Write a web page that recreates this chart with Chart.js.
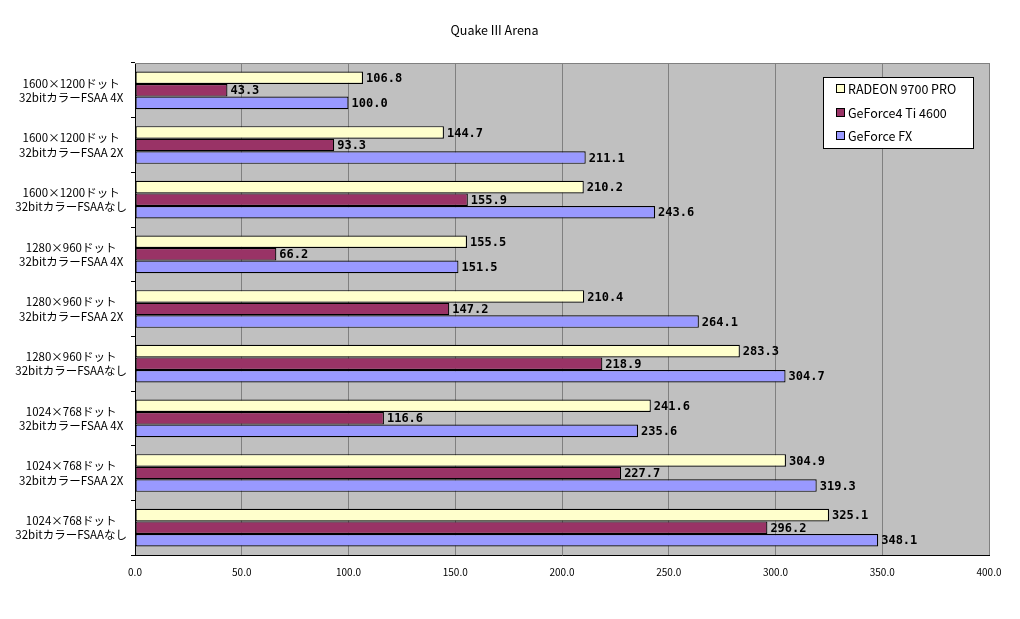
<!DOCTYPE html>
<html>
<head>
<meta charset="utf-8">
<script src="https://cdn.jsdelivr.net/npm/chart.js@4/dist/chart.umd.min.js"></script>
<style>
html,body{margin:0;padding:0;background:#fff;}
#wrap{width:1020px;height:619px;position:relative;}
</style>
</head>
<body>
<div id="wrap"><canvas id="c" width="1020" height="619"></canvas></div>
<script>
const chartTitle = 'Quake III Arena';
const categories = [
  ['1600×1200ドット', '32bitカラーFSAA 4X'],
  ['1600×1200ドット', '32bitカラーFSAA 2X'],
  ['1600×1200ドット', '32bitカラーFSAAなし'],
  ['1280×960ドット', '32bitカラーFSAA 4X'],
  ['1280×960ドット', '32bitカラーFSAA 2X'],
  ['1280×960ドット', '32bitカラーFSAAなし'],
  ['1024×768ドット', '32bitカラーFSAA 4X'],
  ['1024×768ドット', '32bitカラーFSAA 2X'],
  ['1024×768ドット', '32bitカラーFSAAなし']
];
const seriesNames = ['RADEON 9700 PRO', 'GeForce4 Ti 4600', 'GeForce FX'];
const radeon9700 = [106.8, 144.7, 210.2, 155.5, 210.4, 283.3, 241.6, 304.9, 325.1];
const geforce4ti = [43.3, 93.3, 155.9, 66.2, 147.2, 218.9, 116.6, 227.7, 296.2];
const geforceFX  = [100.0, 211.1, 243.6, 151.5, 264.1, 304.7, 235.6, 319.3, 348.1];
const xTicks = [0, 50, 100, 150, 200, 250, 300, 350, 400];
const seriesColors = ['#FFFFCC', '#993366', '#9999FF'];

const JP = '"Noto Sans CJK JP", "DejaVu Sans", sans-serif';

const plotBg = {
  id: 'plotBg',
  beforeDraw(chart) {
    const {ctx, chartArea: a} = chart;
    ctx.save();
    ctx.fillStyle = '#C0C0C0';
    ctx.fillRect(a.left, a.top, a.right - a.left, a.bottom - a.top);
    ctx.restore();
  },
  afterDatasetsDraw(chart) {
    const {ctx, chartArea: a} = chart;
    ctx.save();
    ctx.strokeStyle = '#808080';
    ctx.lineWidth = 1;
    ctx.beginPath();
    ctx.moveTo(a.left, a.top + 0.5);
    ctx.lineTo(a.right + 0.5, a.top + 0.5);
    ctx.lineTo(a.right + 0.5, a.bottom);
    ctx.stroke();
    // data labels
    ctx.fillStyle = '#000';
    ctx.font = 'bold 12px "DejaVu Sans Mono", monospace';
    ctx.textAlign = 'left';
    ctx.textBaseline = 'middle';
    chart.data.datasets.forEach((ds, i) => {
      const meta = chart.getDatasetMeta(i);
      meta.data.forEach((bar, j) => {
        ctx.fillText(ds.data[j].toFixed(1), bar.x + 3, bar.y + 1);
      });
    });
    ctx.restore();
  },
  afterDraw(chart) {
    const {ctx} = chart;
    const bx = 823.5, by = 77.5, bw = 150, bh = 71;
    ctx.save();
    ctx.fillStyle = '#fff';
    ctx.fillRect(bx, by, bw, bh);
    ctx.strokeStyle = '#000';
    ctx.lineWidth = 1;
    ctx.strokeRect(bx, by, bw, bh);
    ctx.font = '12.5px ' + JP;
    ctx.textBaseline = 'middle';
    ctx.textAlign = 'left';
    chart.data.datasets.forEach((ds, i) => {
      const cy = 89 + i * 23.5;
      ctx.fillStyle = ds.backgroundColor;
      ctx.fillRect(836.5, Math.round(cy) - 4.5, 8, 8);
      ctx.strokeStyle = '#000';
      ctx.strokeRect(836.5, Math.round(cy) - 4.5, 8, 8);
      ctx.fillStyle = '#000';
      ctx.fillText(ds.label, 848, cy + 0.5);
    });
    ctx.restore();
  }
};

new Chart(document.getElementById('c'), {
  type: 'bar',
  data: {
    labels: categories,
    datasets: [
      {label: seriesNames[0], data: radeon9700, backgroundColor: seriesColors[0]},
      {label: seriesNames[1], data: geforce4ti, backgroundColor: seriesColors[1]},
      {label: seriesNames[2], data: geforceFX, backgroundColor: seriesColors[2]}
    ].map(d => Object.assign(d, {borderColor: '#000', borderWidth: 1.2, borderSkipped: false, categoryPercentage: 0.69, barPercentage: 1.0}))
  },
  options: {
    indexAxis: 'y',
    responsive: false,
    animation: false,
    devicePixelRatio: 1,
    layout: {padding: {left: 0, right: 31, top: 0, bottom: 0}},
    plugins: {
      legend: {display: false},
      tooltip: {enabled: false},
      title: {
        display: true,
        text: chartTitle,
        color: '#000',
        font: {family: JP, size: 12.5, weight: 'normal', lineHeight: 1.2},
        padding: {top: 22.5, bottom: 25.5}
      }
    },
    scales: {
      x: {
        min: 0, max: 400,
        afterBuildTicks(scale) { scale.ticks = xTicks.map(v => ({value: v})); },
        afterFit(scale) { scale.height = 64; },
        grid: {color: '#808080', lineWidth: 1, drawTicks: false},
        border: {color: '#000', width: 1},
        ticks: {
          color: '#000', padding: 11,
          font: {family: JP, size: 10},
          callback: v => Number(v).toFixed(1)
        }
      },
      y: {
        afterFit(scale) { scale.width = 135; },
        grid: {drawOnChartArea: false, drawTicks: true, tickLength: 4, color: '#000', offset: true},
        border: {color: '#000', width: 1},
        ticks: {
          color: '#000', padding: 4, crossAlign: 'center',
          font: {family: JP, size: 11.5, lineHeight: 1.25}
        }
      }
    }
  },
  plugins: [plotBg]
});
</script>
</body>
</html>
